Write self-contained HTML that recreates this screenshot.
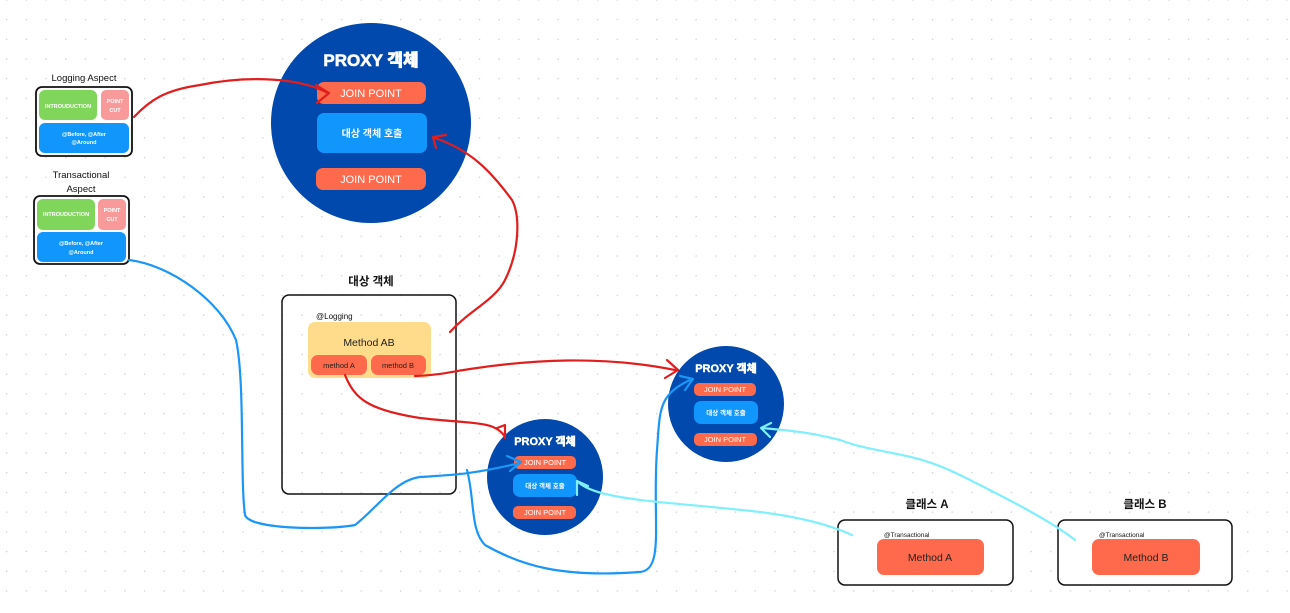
<!DOCTYPE html>
<html><head><meta charset="utf-8"><style>
html,body{margin:0;padding:0;background:#fff}
svg text{font-family:"Liberation Sans","Noto Sans CJK KR",sans-serif}
</style></head><body>
<svg width="1290" height="608" viewBox="0 0 1290 608" xmlns="http://www.w3.org/2000/svg">
<defs>
<pattern id="dots" x="6" y="19" width="19.7" height="19.7" patternUnits="userSpaceOnUse"><circle cx="0" cy="0" r="1.5" fill="#cdd1d7"/></pattern>
</defs>
<rect width="1290" height="608" fill="#fff"/>
<rect width="1290" height="608" fill="url(#dots)"/>

<!-- Logging Aspect -->
<text x="84" y="81" font-size="9.5" text-anchor="middle" fill="#111">Logging Aspect</text>
<rect x="36" y="87" width="96" height="69" rx="6" fill="#fff" stroke="#111" stroke-width="1.8"/>
<rect x="39" y="90" width="58" height="30" rx="6" fill="#7fd65a"/>
<text x="68" y="108" font-size="5.5" text-anchor="middle" fill="#fff" font-weight="bold">INTROUDUCTION</text>
<rect x="101" y="90" width="28" height="30" rx="5" fill="#f99a9a"/>
<text x="115" y="103" font-size="5.5" text-anchor="middle" fill="#fff" font-weight="bold">POINT</text>
<text x="115" y="112" font-size="5.5" text-anchor="middle" fill="#fff" font-weight="bold">CUT</text>
<rect x="39" y="123" width="90" height="30" rx="6" fill="#1196fb"/>
<text x="84" y="136" font-size="5.5" text-anchor="middle" fill="#fff" font-weight="bold">@Before, @After</text>
<text x="84" y="144" font-size="5.5" text-anchor="middle" fill="#fff" font-weight="bold">@Around</text>

<!-- Transactional Aspect -->
<text x="81" y="178" font-size="9.5" text-anchor="middle" fill="#111">Transactional</text>
<text x="81" y="192" font-size="9.5" text-anchor="middle" fill="#111">Aspect</text>
<rect x="34" y="196" width="95" height="68" rx="6" fill="#fff" stroke="#111" stroke-width="1.8"/>
<rect x="37" y="199" width="58" height="31" rx="6" fill="#7fd65a"/>
<text x="66" y="216" font-size="5.5" text-anchor="middle" fill="#fff" font-weight="bold">INTROUDUCTION</text>
<rect x="98" y="199" width="28" height="31" rx="5" fill="#f99a9a"/>
<text x="112" y="212" font-size="5.5" text-anchor="middle" fill="#fff" font-weight="bold">POINT</text>
<text x="112" y="221" font-size="5.5" text-anchor="middle" fill="#fff" font-weight="bold">CUT</text>
<rect x="37" y="232" width="89" height="30" rx="6" fill="#1196fb"/>
<text x="81" y="245" font-size="5.5" text-anchor="middle" fill="#fff" font-weight="bold">@Before, @After</text>
<text x="81" y="254" font-size="5.5" text-anchor="middle" fill="#fff" font-weight="bold">@Around</text>

<!-- Big proxy -->
<circle cx="371" cy="123" r="100" fill="#0249ad"/>
<text x="371" y="66" font-size="17" font-weight="900" text-anchor="middle" fill="#fff" stroke="#fff" stroke-width="0.6">PROXY 객체</text>
<rect x="317" y="82" width="109" height="22" rx="7" fill="#fe6a4b"/>
<text x="371" y="97" font-size="11" text-anchor="middle" fill="#fff">JOIN POINT</text>
<rect x="317" y="113" width="110" height="40" rx="7" fill="#1196fb"/>
<text x="372" y="137" font-size="10" text-anchor="middle" fill="#fff" font-weight="bold">대상 객체 호출</text>
<rect x="316" y="168" width="110" height="22" rx="7" fill="#fe6a4b"/>
<text x="371" y="183" font-size="11" text-anchor="middle" fill="#fff">JOIN POINT</text>

<!-- 대상 객체 -->
<text x="371" y="285" font-size="11.5" text-anchor="middle" fill="#111" font-weight="bold">대상 객체</text>
<rect x="282" y="295" width="174" height="199" rx="7" fill="none" stroke="#111" stroke-width="1.5"/>
<text x="316" y="319" font-size="8" fill="#111">@Logging</text>
<rect x="308" y="322" width="123" height="56" rx="7" fill="#ffdc8c"/>
<text x="369" y="346" font-size="10.5" text-anchor="middle" fill="#222">Method AB</text>
<rect x="311" y="355" width="56" height="20" rx="7" fill="#fe6a4b"/>
<text x="339" y="368" font-size="7.5" text-anchor="middle" fill="#222">method A</text>
<rect x="371" y="355" width="55" height="20" rx="7" fill="#fe6a4b"/>
<text x="398" y="368" font-size="7.5" text-anchor="middle" fill="#222">method B</text>

<!-- Proxy 2 -->
<circle cx="545" cy="477" r="58" fill="#0249ad"/>
<text x="545" y="445" font-size="11" font-weight="900" text-anchor="middle" fill="#fff" stroke="#fff" stroke-width="0.4">PROXY 객체</text>
<rect x="514" y="456" width="62" height="13" rx="5" fill="#fe6a4b"/>
<text x="545" y="465" font-size="7.5" text-anchor="middle" fill="#fff">JOIN POINT</text>
<rect x="513" y="474" width="64" height="23" rx="7" fill="#1196fb"/>
<text x="545" y="488" font-size="6.5" text-anchor="middle" fill="#fff" font-weight="bold">대상 객체 호출</text>
<rect x="513" y="506" width="63" height="13" rx="5" fill="#fe6a4b"/>
<text x="545" y="515" font-size="7.5" text-anchor="middle" fill="#fff">JOIN POINT</text>

<!-- Proxy 3 -->
<circle cx="726" cy="404" r="58" fill="#0249ad"/>
<text x="726" y="372" font-size="11" font-weight="900" text-anchor="middle" fill="#fff" stroke="#fff" stroke-width="0.4">PROXY 객체</text>
<rect x="694" y="383" width="62" height="13" rx="5" fill="#fe6a4b"/>
<text x="725" y="392" font-size="7.5" text-anchor="middle" fill="#fff">JOIN POINT</text>
<rect x="694" y="401" width="64" height="23" rx="7" fill="#1196fb"/>
<text x="726" y="415" font-size="6.5" text-anchor="middle" fill="#fff" font-weight="bold">대상 객체 호출</text>
<rect x="694" y="433" width="63" height="13" rx="5" fill="#fe6a4b"/>
<text x="725" y="442" font-size="7.5" text-anchor="middle" fill="#fff">JOIN POINT</text>

<!-- Class A / B -->
<text x="927" y="508" font-size="11.5" text-anchor="middle" fill="#111" font-weight="bold">클래스 A</text>
<rect x="838" y="520" width="175" height="65" rx="7" fill="#fff" stroke="#111" stroke-width="1.5"/>
<text x="884" y="537" font-size="6.5" fill="#111">@Transactional</text>
<rect x="877" y="539" width="107" height="36" rx="7" fill="#fe6a4b"/>
<text x="930" y="561" font-size="10.5" text-anchor="middle" fill="#222">Method A</text>
<text x="1145" y="508" font-size="11.5" text-anchor="middle" fill="#111" font-weight="bold">클래스 B</text>
<rect x="1058" y="520" width="174" height="65" rx="7" fill="#fff" stroke="#111" stroke-width="1.5"/>
<text x="1099" y="537" font-size="6.5" fill="#111">@Transactional</text>
<rect x="1092" y="539" width="108" height="36" rx="7" fill="#fe6a4b"/>
<text x="1146" y="561" font-size="10.5" text-anchor="middle" fill="#222">Method B</text>

<!-- red connectors -->
<g fill="none" stroke="#e01e1e" stroke-width="2.2" stroke-linecap="round" stroke-linejoin="round">
<path d="M134 117 C150 100 165 90 200 85 C250 75 300 78 328 93"/>
<path d="M316 85 L329 93 L317 103"/>
<path d="M450 332 C470 310 495 300 505 280 C520 250 520 215 512 200 C490 170 470 150 435 138"/>
<path d="M436 148 L433 137 L446 135"/>
<path d="M415 376 C440 375 450 372 470 369 C530 360 600 355 675 370"/>
<path d="M667 360 L678 370 L665 378"/>
<path d="M345 375 C355 400 370 410 420 418 C470 424 495 420 505 437"/>
<path d="M497 428 L505 425 L505 438"/>
</g>
<!-- blue connectors -->
<g fill="none" stroke="#1a96f5" stroke-width="2.2" stroke-linecap="round" stroke-linejoin="round">
<path d="M129 260 C170 265 220 300 236 340 C245 380 240 480 245 515 C250 530 330 530 355 525 C375 510 395 480 420 477 C450 475 470 475 520 463"/>
<path d="M507 456 L521 462 L510 471"/>
<path d="M467 470 C475 500 470 530 485 545 C520 565 560 578 640 572 C665 570 652 520 657 450 C660 410 658 395 690 380"/>
<path d="M680 376 L693 379 L685 390"/>
</g>
<!-- light cyan connectors -->
<g fill="none" stroke="#7ff0fb" stroke-width="2.2" stroke-linecap="round" stroke-linejoin="round">
<path d="M852 535 C830 525 800 517 760 512 C700 505 640 502 610 495 C595 492 585 488 578 482"/>
<path d="M577 495 L577 481 L588 486"/>
<path d="M1075 540 C1050 520 1000 495 960 475 C910 450 880 455 840 440 C800 430 780 430 762 428"/>
<path d="M770 437 L761 428 L771 423"/>
</g>
</svg>
</body></html>
